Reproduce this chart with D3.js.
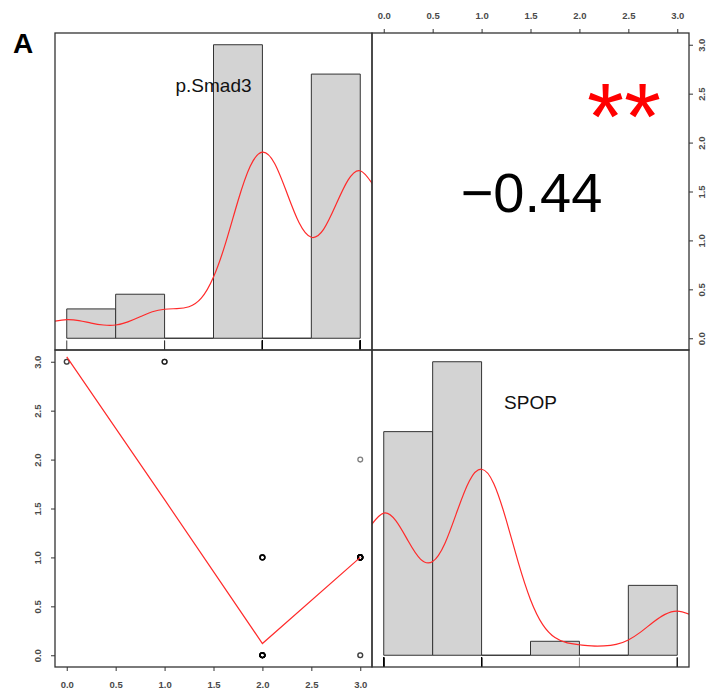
<!DOCTYPE html>
<html>
<head>
<meta charset="utf-8">
<script src="https://cdn.jsdelivr.net/npm/d3@7"></script>
<style>
  body { margin: 0; background: #fff; }
  text { font-family: Arial, "Liberation Sans", sans-serif; }
</style>
</head>
<body>
<svg id="chart" width="712" height="694"></svg>
<script>
// observed scores and how often each one occurs
let levels = [0, 1, 2, 3];
let smadCounts = [2, 3, 20, 18];
let spopCounts = [16, 21, 1, 5];

// scatter p.Smad3 (x) vs SPOP (y); n = overlapping observations
let pairX = [0, 1, 2, 2, 3, 3, 3];
let pairY = [3, 3, 1, 0, 2, 1, 0];
let pairN = [2, 3, 6, 14, 1, 15, 2];

// smoother through the scatter
let fitX = [0, 1, 2, 3];
let fitY = [3.05, 1.59, 0.12, 1.0];

// density curves
let densX = [-0.125, 0, 0.125, 0.25, 0.375, 0.5, 0.625, 0.75, 0.875, 1, 1.125, 1.25, 1.375,
             1.5, 1.625, 1.75, 1.875, 2, 2.125, 2.25, 2.375, 2.5, 2.625, 2.75, 2.875, 3, 3.125];
let smadDens = [0.054, 0.059, 0.056, 0.048, 0.042, 0.042, 0.052, 0.068, 0.084, 0.092, 0.094, 0.100, 0.127,
                0.194, 0.303, 0.435, 0.545, 0.590, 0.554, 0.461, 0.366, 0.320, 0.345, 0.422, 0.501, 0.531, 0.489];
let spopDens = [0.435, 0.473, 0.447, 0.380, 0.320, 0.312, 0.372, 0.479, 0.580, 0.619, 0.571, 0.452, 0.309,
                0.185, 0.102, 0.059, 0.041, 0.035, 0.031, 0.031, 0.036, 0.051, 0.077, 0.109, 0.136, 0.147, 0.136];

let breaks = [0, 0.5, 1, 1.5, 2, 2.5, 3];
let tickVals = [0, 0.5, 1, 1.5, 2, 2.5, 3];
let varNames = ["p.Smad3", "SPOP"];
let corrLabel = "\u22120.44";
let starLabel = "**";
let panelTag = "A";

let size = 317;
let padLeft = 55;
let padTop = 33;
let fmt = d3.format(".1f");

let svg = d3.select("#chart");

function xAt(x0) {
    return d3.scaleLinear().domain([-0.12, 3.12]).range([x0, x0 + size]);
}
function yAt(y0) {
    return d3.scaleLinear().domain([-0.12, 3.12]).range([y0 + size, y0]);
}

function histBins(counts) {
    let total = d3.sum(counts);
    return d3.pairs(breaks).map(([lo, hi], i) => {
        let n = d3.sum(levels, (v, j) => ((v > lo || (i === 0 && v === lo)) && v <= hi) ? counts[j] : 0);
        return { lo: lo, hi: hi, dens: n / (total * (hi - lo)) };
    });
}

function styleTicks(g) {
    g.select(".domain").remove();
    g.selectAll(".tick line").attr("stroke", "#333").attr("stroke-width", 1);
    g.selectAll(".tick text")
        .attr("fill", "#4a4a4a")
        .style("font-size", "9.5px")
        .style("font-weight", "bold");
}

function histPanel(x0, y0, counts, dens, label, id) {
    let xs = xAt(x0);
    let bins = histBins(counts);
    let maxD = d3.max(bins, d => d.dens);
    let ys = d3.scaleLinear().domain([-0.04 * maxD, 1.04 * maxD]).range([y0 + size, y0]);

    svg.append("clipPath").attr("id", id)
        .append("rect").attr("x", x0).attr("y", y0).attr("width", size).attr("height", size);

    let g = svg.append("g").attr("clip-path", "url(#" + id + ")");

    g.selectAll("path.bar")
        .data(bins)
        .enter()
        .append("path")
        .attr("class", "bar")
        .attr("d", d => "M" + xs(d.lo) + "," + ys(0) + "V" + ys(d.dens) + "H" + xs(d.hi) + "V" + ys(0) + "Z")
        .attr("fill", "#d3d3d3")
        .attr("stroke", "#333")
        .attr("stroke-width", 1);

    let line = d3.line()
        .x((d, i) => xs(densX[i]))
        .y(d => ys(d))
        .curve(d3.curveNatural);

    g.append("path")
        .attr("d", line(dens))
        .attr("fill", "none")
        .attr("stroke", "#ff2a2a")
        .attr("stroke-width", 1.2);

    // rug, one tick per observation
    let rug = [];
    levels.forEach((v, j) => { for (let k = 0; k < counts[j]; k++) rug.push(v); });
    g.selectAll("line.rug")
        .data(rug)
        .enter()
        .append("line")
        .attr("x1", d => xs(d))
        .attr("x2", d => xs(d))
        .attr("y1", y0 + size)
        .attr("y2", y0 + size - 0.03 * size)
        .attr("stroke", "#000")
        .attr("stroke-opacity", 0.45)
        .attr("stroke-width", 1);

    svg.append("text")
        .attr("x", x0 + size / 2)
        .attr("y", y0 + 59)
        .attr("text-anchor", "middle")
        .style("font-size", "19px")
        .attr("fill", "#111")
        .text(label);
}

// diagonal histograms
histPanel(padLeft, padTop, smadCounts, smadDens, varNames[0], "clipA");
histPanel(padLeft + size, padTop + size, spopCounts, spopDens, varNames[1], "clipB");

// lower-left scatter
let sx = xAt(padLeft);
let sy = yAt(padTop + size);

let obs = [];
pairX.forEach((x, i) => { for (let k = 0; k < pairN[i]; k++) obs.push({ x: x, y: pairY[i] }); });

svg.append("g")
    .selectAll("circle")
    .data(obs)
    .enter()
    .append("circle")
    .attr("cx", d => sx(d.x))
    .attr("cy", d => sy(d.y))
    .attr("r", 2.4)
    .attr("fill", "none")
    .attr("stroke", "#000")
    .attr("stroke-opacity", 0.5)
    .attr("stroke-width", 1.3);

svg.append("path")
    .attr("d", d3.line().x((d, i) => sx(fitX[i])).y(d => sy(d))(fitY))
    .attr("fill", "none")
    .attr("stroke", "#ff2a2a")
    .attr("stroke-width", 1.2);

let leftAxis = svg.append("g")
    .attr("transform", "translate(" + padLeft + ",0)")
    .call(d3.axisLeft(sy).tickValues(tickVals).tickSize(4).tickFormat(fmt));
styleTicks(leftAxis);
leftAxis.selectAll(".tick text")
    .attr("x", null).attr("dy", "0.35em")
    .attr("text-anchor", "middle")
    .attr("transform", "translate(-17,0) rotate(-90)");

let bottomAxis = svg.append("g")
    .attr("transform", "translate(0," + (padTop + 2 * size) + ")")
    .call(d3.axisBottom(sx).tickValues(tickVals).tickSize(4).tickPadding(10).tickFormat(fmt));
styleTicks(bottomAxis);

// upper-right correlation
let cx = xAt(padLeft + size);
let cy = yAt(padTop);

svg.append("text")
    .attr("x", padLeft + size + size / 2 + 1)
    .attr("y", 211.5)
    .attr("text-anchor", "middle")
    .style("font-size", "56px")
    .attr("fill", "#000")
    .text(corrLabel);

svg.append("text")
    .attr("x", 624)
    .attr("y", 149)
    .attr("text-anchor", "middle")
    .style("font-size", "95px")
    .attr("fill", "#ff0000")
    .text(starLabel);

let topAxis = svg.append("g")
    .attr("transform", "translate(0," + padTop + ")")
    .call(d3.axisTop(cx).tickValues(tickVals).tickSize(4).tickPadding(10).tickFormat(fmt));
styleTicks(topAxis);

let rightAxis = svg.append("g")
    .attr("transform", "translate(" + (padLeft + 2 * size) + ",0)")
    .call(d3.axisRight(cy).tickValues(tickVals).tickSize(4).tickFormat(fmt));
styleTicks(rightAxis);
rightAxis.selectAll(".tick text")
    .attr("x", null).attr("dy", "0.35em")
    .attr("text-anchor", "middle")
    .attr("transform", "translate(13,0) rotate(-90)");

// panel boxes
[[0, 0], [1, 0], [0, 1], [1, 1]].forEach(([c, r]) => {
    svg.append("rect")
        .attr("x", padLeft + c * size)
        .attr("y", padTop + r * size)
        .attr("width", size)
        .attr("height", size)
        .attr("fill", "none")
        .attr("stroke", "#333")
        .attr("stroke-width", 1.3);
});

svg.append("text")
    .attr("x", 13)
    .attr("y", 52.5)
    .style("font-size", "28px")
    .style("font-weight", "bold")
    .attr("fill", "#000")
    .text(panelTag);
</script>
</body>
</html>
